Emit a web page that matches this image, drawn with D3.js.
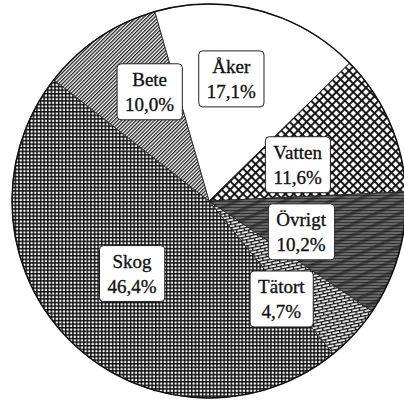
<!DOCTYPE html>
<html>
<head>
<meta charset="utf-8">
<script src="https://cdn.jsdelivr.net/npm/d3@7"></script>
<style>
  html, body { margin: 0; padding: 0; background: #fff; }
  svg { display: block; }
</style>
</head>
<body>
<script>
var width = 404
var height = 400

// data (percent of area)
var categories = ['Åker', 'Vatten', 'Övrigt', 'Tätort', 'Skog', 'Bete']
var shares = [17.1, 11.6, 10.2, 4.7, 46.4, 10.0]
var shareLabels = ['17,1%', '11,6%', '10,2%', '4,7%', '46,4%', '10,0%']

// fill pattern id per category
var fills = ['none', 'vatten', 'ovrigt', 'tatort', 'skog', 'bete']
// label placement: [angle shift in degrees, fraction of radius]
var labelPlace = [[-4.6, 0.64], [0.2, 0.49], [1.7, 0.49], [10.5, 0.61], [3, 0.53], [5.9, 0.64]]

var cx = 209
var cy = 201
var radius = 197
var labelFont = "19px 'Liberation Serif'"

var svg = d3.select('body').append('svg')
  .attr('width', width)
  .attr('height', height)

var defs = svg.append('defs')

function addPattern(id, w, h, transform) {
  var p = defs.append('pattern')
    .attr('id', id)
    .attr('patternUnits', 'userSpaceOnUse')
    .attr('width', w)
    .attr('height', h)
  if (transform) p.attr('patternTransform', transform)
  return p
}

// Skog: fine square grid
var pSkog = addPattern('skog', 3.6, 3.6)
pSkog.append('rect').attr('width', 3.6).attr('height', 3.6).attr('fill', '#fff')
pSkog.append('rect').attr('width', 3.6).attr('height', 1.5).attr('fill', '#111')
pSkog.append('rect').attr('width', 1.5).attr('height', 3.6).attr('fill', '#111')

// Vatten: diagonal lattice
var pVat = addPattern('vatten', 6, 6, 'rotate(45)')
pVat.append('rect').attr('width', 6).attr('height', 6).attr('fill', '#fff')
pVat.append('rect').attr('width', 6).attr('height', 1.9).attr('fill', '#111')
pVat.append('rect').attr('width', 1.9).attr('height', 6).attr('fill', '#111')

// Övrigt: dark, horizontal lines
var pOvr = addPattern('ovrigt', 4, 3)
pOvr.append('rect').attr('width', 4).attr('height', 3).attr('fill', '#333')
pOvr.append('rect').attr('y', 1.5).attr('width', 4).attr('height', 1).attr('fill', '#9a9a9a')
// Övrigt overlay: diagonal dark bands
var pOvr2 = addPattern('ovrigt2', 10, 10, 'rotate(-25)')
pOvr2.append('rect').attr('width', 10).attr('height', 3.5).attr('fill', '#1a1a1a').attr('opacity', 0.5)

// Tätort: bricks
var pTat = addPattern('tatort', 8, 6, 'rotate(-12)')
pTat.append('rect').attr('width', 8).attr('height', 6).attr('fill', '#fff')
pTat.append('rect').attr('width', 8).attr('height', 1.3).attr('fill', '#111')
pTat.append('rect').attr('y', 3).attr('width', 8).attr('height', 1.3).attr('fill', '#111')
pTat.append('rect').attr('width', 1.3).attr('height', 3).attr('fill', '#111')
pTat.append('rect').attr('x', 4).attr('y', 3).attr('width', 1.3).attr('height', 3).attr('fill', '#111')

// Bete: fine diagonal hatching
var pBete = addPattern('bete', 2.6, 2.6, 'rotate(45)')
pBete.append('rect').attr('width', 2.6).attr('height', 2.6).attr('fill', '#fff')
pBete.append('rect').attr('width', 1.3).attr('height', 2.6).attr('fill', '#222')

var pie = d3.pie()
  .sort(null)
  .value(function(d) { return d })
  .startAngle(-16 * Math.PI / 180)
  .endAngle(344 * Math.PI / 180)

var arcs = pie(shares)

var arc = d3.arc().innerRadius(0).outerRadius(radius)

var g = svg.append('g').attr('transform', 'translate(' + cx + ',' + cy + ')')

g.selectAll('path.slice')
  .data(arcs)
  .enter()
  .append('path')
  .attr('class', 'slice')
  .attr('d', arc)
  .attr('fill', function(d, i) { return fills[i] === 'none' ? '#fff' : 'url(#' + fills[i] + ')' })
  .attr('stroke', '#222')
  .attr('stroke-width', 0.8)

// extra layer for Övrigt
g.append('path')
  .datum(arcs[2])
  .attr('d', arc)
  .attr('fill', 'url(#ovrigt2)')

g.append('circle')
  .attr('r', radius)
  .attr('fill', 'none')
  .attr('stroke', '#111')
  .attr('stroke-width', 1.5)

// labels
var labels = g.selectAll('g.label')
  .data(arcs)
  .enter()
  .append('g')
  .attr('class', 'label')
  .attr('transform', function(d, i) {
    var a = (d.startAngle + d.endAngle) / 2 + labelPlace[i][0] * Math.PI / 180
    var r = radius * labelPlace[i][1]
    return 'translate(' + (Math.sin(a) * r) + ',' + (-Math.cos(a) * r) + ')'
  })

labels.append('rect')
  .attr('rx', 4)
  .attr('ry', 4)
  .attr('fill', '#fff')
  .attr('stroke', '#222')
  .attr('stroke-width', 1)

labels.append('text')
  .attr('text-anchor', 'middle')
  .style('font', labelFont)
  .style('fill', '#111')
  .style('stroke', '#111')
  .style('stroke-width', '0.35px')
  .each(function(d, i) {
    var t = d3.select(this)
    t.append('tspan').attr('x', 0).attr('y', -4).text(categories[i])
    t.append('tspan').attr('x', 0).attr('y', 21).text(shareLabels[i])
  })

// box around each label, sized from the text
function sizeBoxes() {
  labels.each(function() {
    var gl = d3.select(this)
    var bb = gl.select('text').node().getBBox()
    gl.select('rect')
      .attr('x', bb.x - 8)
      .attr('y', bb.y - 5)
      .attr('width', bb.width + 16)
      .attr('height', bb.height + 10)
  })
}

sizeBoxes()
if (document.fonts && document.fonts.load) {
  document.fonts.load(labelFont, 'Åker 17,1%').then(sizeBoxes, sizeBoxes)
}
</script>
</body>
</html>
